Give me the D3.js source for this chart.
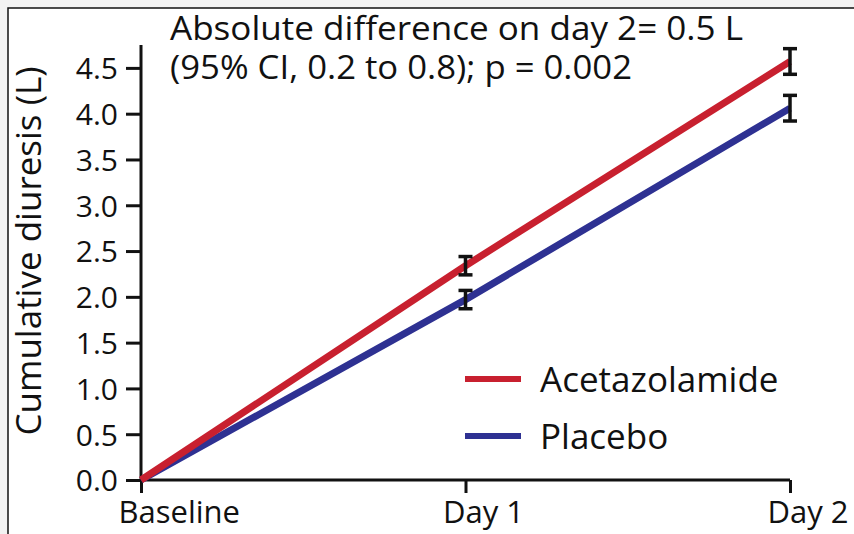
<!DOCTYPE html>
<html><head><meta charset="utf-8">
<script src="https://cdn.jsdelivr.net/npm/d3@7"></script>
<style>
html,body{margin:0;padding:0;background:#f2f2f2;}
svg{display:block;}
text{font-family:"Open Sans","Noto Sans",sans-serif;fill:#111;}
</style></head>
<body>
<svg id="chart" width="854" height="534"></svg>
<script>
const categories = ["Baseline", "Day 1", "Day 2"];
const acetazolamide = [0, 2.34, 4.57];
const acetazolamideCI = [0, 0.10, 0.14];
const placebo = [0, 1.97, 4.06];
const placeboCI = [0, 0.10, 0.14];
const yTicks = [0, 0.5, 1, 1.5, 2, 2.5, 3, 3.5, 4, 4.5];
const seriesNames = ["Acetazolamide", "Placebo"];
const annotation = ["Absolute difference on day 2= 0.5 L", "(95% CI, 0.2 to 0.8); p = 0.002"];

const svg = d3.select("#chart");
svg.append("rect").attr("x", 8).attr("y", 8).attr("width", 900).attr("height", 600)
  .attr("fill", "#fff").attr("stroke", "#111").attr("stroke-width", 1.5);

const mLeft = 141, mRight = 790, mTop = 45, mBottom = 480;
const x = d3.scalePoint().domain(categories).range([mLeft, mRight]);
const y = d3.scaleLinear().domain([0, 4.75]).range([mBottom, mTop]);

const colors = {Acetazolamide: "#c8202f", Placebo: "#2e3192"};

// axes
const yAxis = svg.append("g").attr("transform", `translate(${mLeft},0)`)
  .call(d3.axisLeft(y).tickValues(yTicks).tickFormat(d3.format(".1f")).tickSize(15).tickPadding(8));
yAxis.select(".domain").attr("stroke-width", 3).attr("stroke", "#111")
  .attr("d", `M0,${mTop}V${mBottom}`);
yAxis.selectAll(".tick line").attr("stroke-width", 3).attr("stroke", "#111");
yAxis.selectAll(".tick text").style("font-size", "30px").attr("dy", "0.36em").attr("fill", "#111");

const xAxis = svg.append("g").attr("transform", `translate(0,${mBottom})`)
  .call(d3.axisBottom(x).tickSize(13).tickPadding(6));
xAxis.select(".domain").attr("stroke-width", 3).attr("stroke", "#111")
  .attr("d", `M${mLeft},0H${mRight}`);
xAxis.selectAll(".tick line").attr("stroke-width", 3).attr("stroke", "#111");
xAxis.selectAll(".tick text").style("font-size", "31px").attr("text-anchor", "start")
  .attr("dx", -23).attr("y", 43).attr("dy", 0).attr("fill", "#111");

// y label
svg.append("text").attr("transform", `translate(41,251) rotate(-90)`)
  .attr("text-anchor", "middle").style("font-size", "35px").attr("fill", "#222")
  .text("Cumulative diuresis (L)");

// lines
const line = d3.line().x((d, i) => x(categories[i])).y(d => y(d));
[["Placebo", placebo], ["Acetazolamide", acetazolamide]].forEach(([name, vals]) => {
  svg.append("path").datum(vals).attr("d", line).attr("fill", "none")
    .attr("stroke", colors[name]).attr("stroke-width", 7);
});

// error bars
[[acetazolamide, acetazolamideCI], [placebo, placeboCI]].forEach(([vals, ci]) => {
  vals.forEach((v, i) => {
    if (ci[i] === 0) return;
    const cx = x(categories[i]);
    const g = svg.append("g").attr("stroke", "#111").attr("stroke-width", 3.5);
    g.append("line").attr("x1", cx).attr("x2", cx).attr("y1", y(v + ci[i])).attr("y2", y(v - ci[i]));
    [v + ci[i], v - ci[i]].forEach(e => {
      g.append("line").attr("x1", cx - 7).attr("x2", cx + 7).attr("y1", y(e)).attr("y2", y(e));
    });
  });
});

// legend
seriesNames.forEach((name, i) => {
  const ly = 379 + i * 57;
  svg.append("line").attr("x1", 465).attr("x2", 521).attr("y1", ly).attr("y2", ly)
    .attr("stroke", colors[name]).attr("stroke-width", 6);
  svg.append("text").attr("x", 540).attr("y", ly + 13).style("font-size", "35px").text(name);
});

// annotation
const annoWidths = [573, 462];
annotation.forEach((t, i) => {
  svg.append("text").attr("x", 170).attr("y", 40 + i * 39).style("font-size", "32px")
    .attr("textLength", annoWidths[i]).attr("lengthAdjust", "spacingAndGlyphs").text(t);
});
</script>
</body></html>
